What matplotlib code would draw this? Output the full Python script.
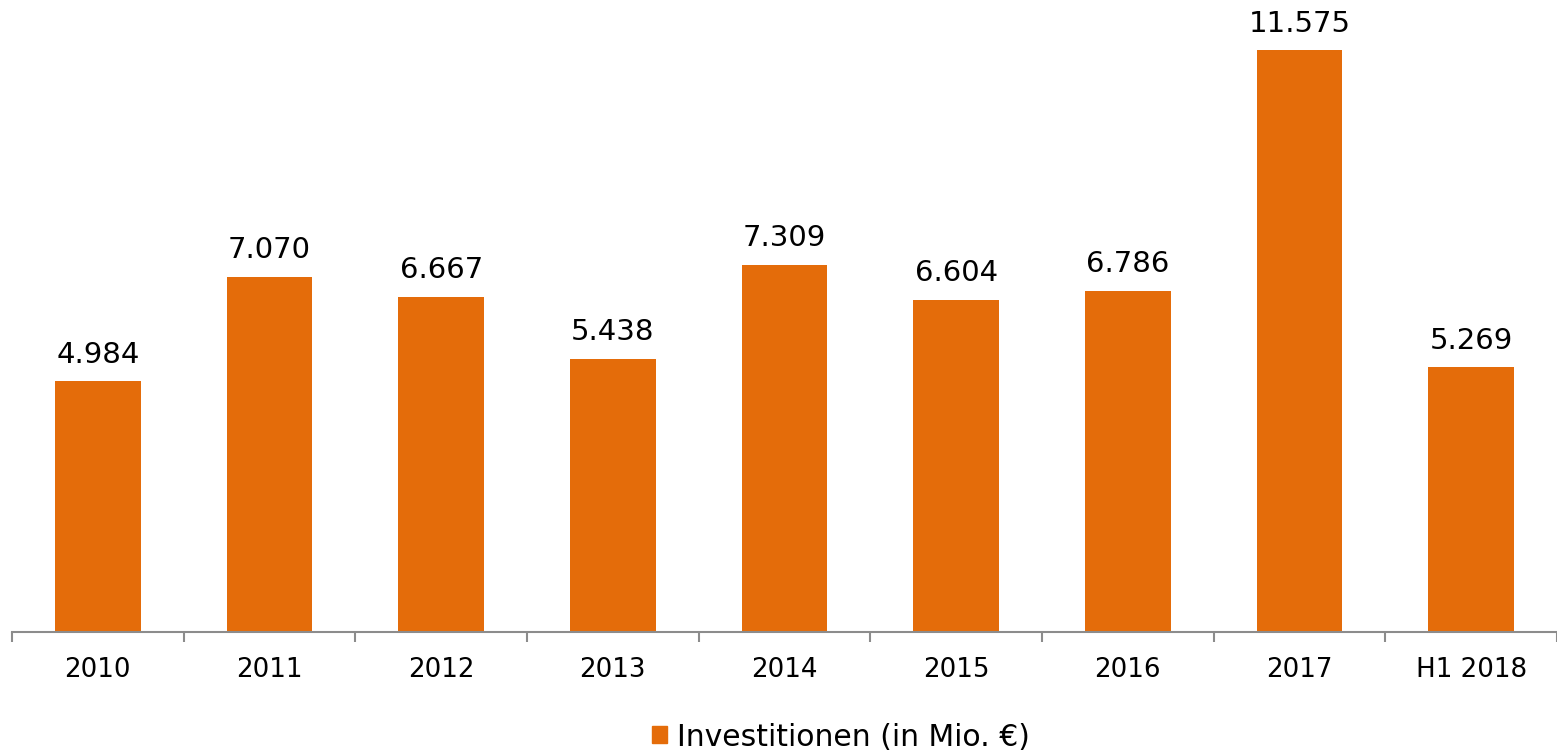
import matplotlib

matplotlib.use("Agg")
import matplotlib.pyplot as plt
from matplotlib.patches import Patch

categories = ["2010", "2011", "2012", "2013", "2014", "2015", "2016", "2017", "H1 2018"]
values = [4984, 7070, 6667, 5438, 7309, 6604, 6786, 11575, 5269]
value_labels = ["4.984", "7.070", "6.667", "5.438", "7.309", "6.604", "6.786", "11.575", "5.269"]
series_name = "Investitionen (in Mio. €)"

ORANGE = "#E46C0A"
AXIS = "#8C8C8C"

plt.rcParams["font.family"] = ["DejaVu Sans"]

fig = plt.figure(figsize=(15.57, 7.54), dpi=100)
ax = fig.add_axes([12 / 1557, 122 / 754, 1545 / 1557, 632 / 754])

x = range(len(categories))
bars = ax.bar(x, values, width=0.5, color=ORANGE, zorder=2)

for b, lab in zip(bars, value_labels):
    ax.annotate(lab, (b.get_x() + b.get_width() / 2, b.get_height()),
                xytext=(0, 9), textcoords="offset points",
                ha="center", va="bottom", fontsize=21, color="black")

ax.set_xlim(-0.5, len(categories) - 0.5)
ax.set_ylim(0, 12570)
ax.set_yticks([])
for s in ("top", "right", "left"):
    ax.spines[s].set_visible(False)
ax.spines["bottom"].set_color(AXIS)
ax.spines["bottom"].set_linewidth(1.5)

# category labels centred, tick marks between categories
ax.set_xticks(list(x))
ax.set_xticklabels(categories, fontsize=18.8)
ax.tick_params(axis="x", which="major", length=0, pad=18)
ax.set_xticks([i - 0.5 for i in range(len(categories) + 1)], minor=True)
ax.tick_params(axis="x", which="minor", length=7, width=1.5, color=AXIS)

fig.legend(handles=[Patch(color=ORANGE, label=series_name)],
           loc="center", bbox_to_anchor=(0.54, 1 - 737 / 754),
           frameon=False, fontsize=21.5, handlelength=0.5, handleheight=0.5,
           handletextpad=0.35)

fig.savefig("out.png", dpi=100)
